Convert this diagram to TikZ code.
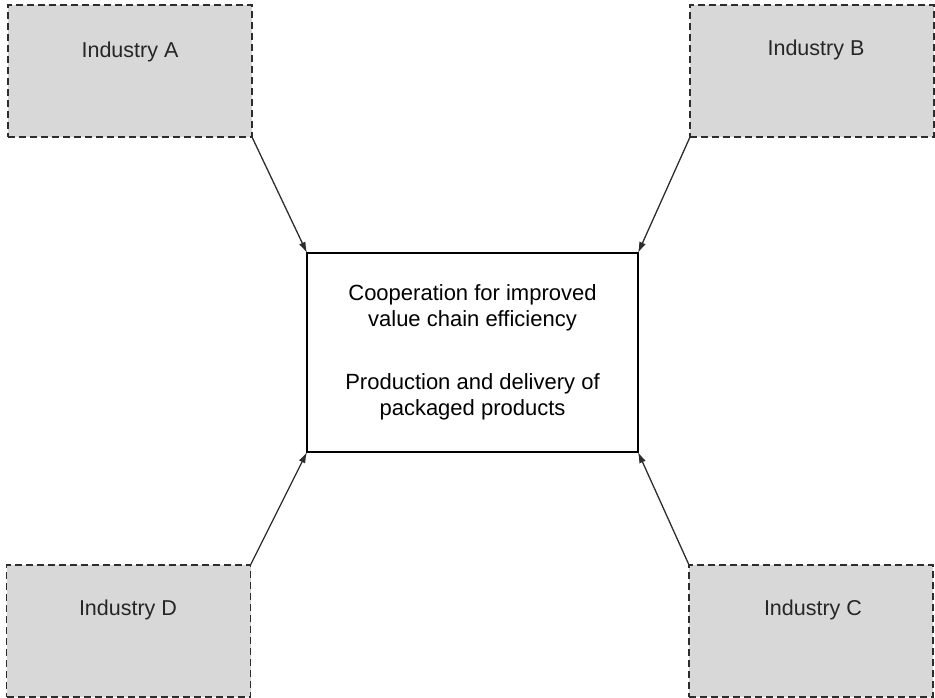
\documentclass[tikz,border=0pt]{standalone}
\usepackage{fontspec}
\setmainfont{Liberation Sans}
\usetikzlibrary{arrows.meta}
\definecolor{boxfill}{RGB}{216,216,216}
\definecolor{edge}{RGB}{45,45,45}
\begin{document}
\begin{tikzpicture}[x=1pt,y=-1pt,
  industry/.style={draw=edge,fill=boxfill,dash pattern=on 7pt off 4pt,line width=1.5pt,
    rectangle,minimum width=244pt,minimum height=132pt,inner sep=0pt,outer sep=0pt},
  ilabel/.style={font=\fontsize{21.5}{24}\selectfont,text=black!85,inner sep=0pt},
  core/.style={draw=black,line width=1.3pt,rectangle,minimum width=331pt,minimum height=199pt,
    inner sep=0pt,outer sep=0pt,align=center,font=\fontsize{22}{26.5}\selectfont},
  link/.style={draw=edge,line width=1.3pt,-{Latex[length=11pt,width=7pt]}}]
\useasboundingbox (0,0) rectangle (935,698);
\node[industry] (A) at (130,71) {};
\node[industry] (B) at (812,71) {};
\node[industry] (D) at (128.5,631) {};
\node[industry] (C) at (811,631) {};
\node[ilabel] (tA) at (130,52) {Industry A};
\node[ilabel] (tB) at (816,50) {Industry B};
\node[ilabel] (tD) at (128,610) {Industry D};
\node[ilabel] (tC) at (813,610) {Industry C};
\node[core] (M) at (472.5,352.5) {Cooperation for improved\\value chain efficiency\\[36pt]Production and delivery of\\packaged products};
\draw[link] (A.south east) -- (M.north west);
\draw[link] (B.south west) -- (M.north east);
\draw[link] (D.north east) -- (M.south west);
\draw[link] (C.north west) -- (M.south east);
\end{tikzpicture}
\end{document}
